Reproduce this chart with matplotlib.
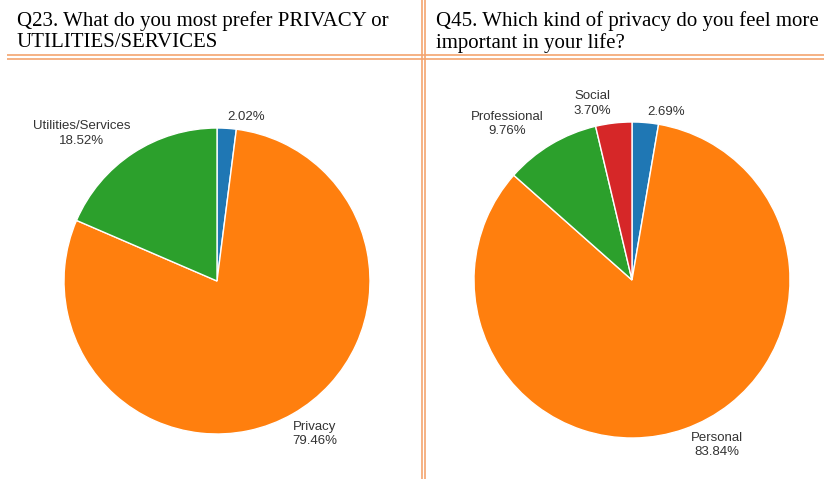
import matplotlib.pyplot as plt

#--------------- data -----------------#
q23_labels = ['', 'Privacy', 'Utilities/Services']
q23_values = [2.02, 79.46, 18.52]

q45_labels = ['', 'Personal', 'Professional', 'Social']
q45_values = [2.69, 83.84, 9.76, 3.70]

colors = ['#1f77b4', '#ff7f0e', '#2ca02c', '#d62728']
border = '#f4a46e'

W, H = 824, 479

def py(y):
    # pixel rows are counted from the top
    return H - y

fig = plt.figure(figsize=(W / 100, H / 100), dpi=100)
ax = fig.add_axes([0, 0, 1, 1])

#--------------- pies -----------------#
ax.pie(q23_values, colors=colors[:3], startangle=90, counterclock=False,
       center=(217, py(281)), radius=153,
       wedgeprops=dict(edgecolor='white', linewidth=1))
ax.pie(q45_values, colors=colors[:4], startangle=90, counterclock=False,
       center=(632, py(280)), radius=158,
       wedgeprops=dict(edgecolor='white', linewidth=1))

ax.set_xlim(0, W)
ax.set_ylim(0, H)
ax.set_aspect('auto')
ax.axis('off')

#--------------- slice labels -----------------#
lab = dict(ha='center', va='center', fontsize=9.5, color='#333333',
           family='Liberation Sans', linespacing=1.25)
ax.text(246, py(117), '%.2f%%' % q23_values[0], **lab)
ax.text(82, py(133.5), '%s\n%.2f%%' % (q23_labels[2], q23_values[2]), **lab)
ax.text(315, py(434), '%s\n%.2f%%' % (q23_labels[1], q23_values[1]), **lab)

ax.text(666, py(112), '%.2f%%' % q45_values[0], **lab)
ax.text(592, py(103.5), '%s\n%.2f%%' % (q45_labels[3], q45_values[3]), **lab)
ax.text(507, py(124), '%s\n%.2f%%' % (q45_labels[2], q45_values[2]), **lab)
ax.text(717, py(445), '%s\n%.2f%%' % (q45_labels[1], q45_values[1]), **lab)

#--------------- titles -----------------#
ttl = dict(ha='left', va='top', fontsize=15, color='black',
           family='Liberation Serif', linespacing=1.12)
ax.text(17, py(11), 'Q23. What do you most prefer PRIVACY or\nUTILITIES/SERVICES', **ttl)
ax.text(436, py(11), 'Q45. Which kind of privacy do you feel more\nimportant in your life?', **ttl)

#--------------- table borders -----------------#
for y in (55, 59):
    ax.plot([7, W], [py(y), py(y)], color=border, lw=1.2, solid_capstyle='butt')
for x in (422, 425.5):
    ax.plot([x, x], [0, H], color=border, lw=1.2, solid_capstyle='butt')

fig.savefig('out.png', dpi=100)
